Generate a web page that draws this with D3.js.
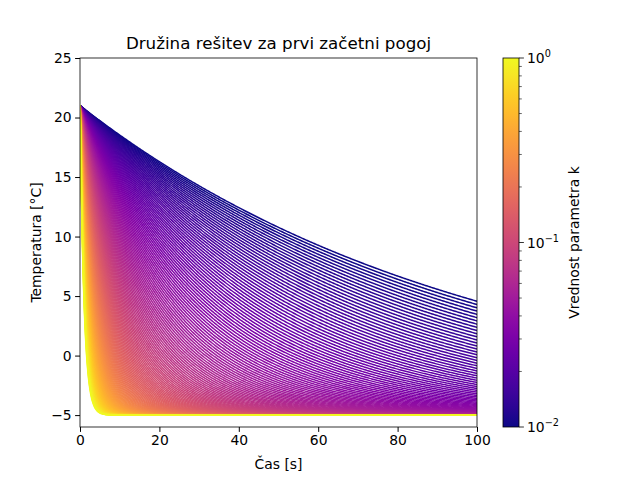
<!DOCTYPE html>
<html><head><meta charset="utf-8">
<script src="https://cdn.jsdelivr.net/npm/d3@7"></script>
<style>body{margin:0;background:#fff}text{font-family:"DejaVu Sans",sans-serif}</style>
</head><body><svg id="c" width="640" height="480"></svg>
<script>
// model parameters
const T0 = 21, Ta = -5;
const kMin = 0.01, kMax = 1, nCurves = 160;
const kValues = d3.range(nCurves).map(i => kMin * Math.pow(kMax / kMin, i / (nCurves - 1)));
const tValues = d3.range(0, 100.001, 0.25);
const xTicks = [0, 20, 40, 60, 80, 100];
const yTicks = [-5, 0, 5, 10, 15, 20, 25];

const svg = d3.select("#c");
const L = 80, R = 477, T = 58, B = 427;
const x = d3.scaleLinear().domain([0, 100]).range([L, R]);
const y = d3.scaleLinear().domain([-6, 25]).range([B, T]);
const kc = d3.scaleLog().domain([kMin, kMax]);
const color = k => d3.interpolatePlasma(kc(k));

svg.append("defs").append("clipPath").attr("id", "cl").append("rect")
  .attr("x", L).attr("y", T).attr("width", R - L).attr("height", B - T);
const g = svg.append("g").attr("clip-path", "url(#cl)");
const line = d3.line().x(d => x(d[0])).y(d => y(d[1]));
kValues.forEach(k => {
  g.append("path").attr("d", line(tValues.map(t => [t, Ta + (T0 - Ta) * Math.exp(-k * t)])))
    .attr("fill", "none").attr("stroke", color(k)).attr("stroke-width", 1.5);
});
svg.append("rect").attr("x", L).attr("y", T).attr("width", R - L).attr("height", B - T)
  .attr("fill", "none").attr("stroke", "#000").attr("stroke-width", 0.8);
svg.append("g").attr("transform", `translate(0,${B})`)
  .call(d3.axisBottom(x).tickValues(xTicks).tickSize(4.9).tickPadding(3.5)).call(a => a.select(".domain").remove())
  .selectAll("text").attr("font-size", 13.9);
svg.append("g").attr("transform", `translate(${L},0)`)
  .call(d3.axisLeft(y).tickValues(yTicks).tickSize(4.9).tickPadding(3.5)).call(a => a.select(".domain").remove())
  .selectAll("text").attr("font-size", 13.9);
svg.append("text").attr("x", (L + R) / 2).attr("y", 469).attr("text-anchor", "middle").attr("font-size", 13.9).text("Čas [s]");
svg.append("text").attr("transform", `translate(41,${(T + B) / 2}) rotate(-90)`).attr("text-anchor", "middle").attr("font-size", 13.9).text("Temperatura [°C]");
svg.append("text").attr("x", (L + R) / 2).attr("y", 49).attr("text-anchor", "middle").attr("font-size", 16.7).text("Družina rešitev za prvi začetni pogoj");

// colorbar
const cx = 503, cw = 16;
const cy = d3.scaleLog().domain([kMin, kMax]).range([B, T]);
const grad = svg.select("defs").append("linearGradient").attr("id", "gr").attr("x1", 0).attr("y1", 1).attr("x2", 0).attr("y2", 0);
d3.range(0, 1.001, 0.05).forEach(s => grad.append("stop").attr("offset", s).attr("stop-color", d3.interpolatePlasma(s)));
svg.append("rect").attr("x", cx).attr("y", T).attr("width", cw).attr("height", B - T).attr("fill", "url(#gr)").attr("stroke", "#000").attr("stroke-width", 0.8);
const major = [0.01, 0.1, 1], minor = [];
[0.01, 0.1].forEach(d => d3.range(2, 10).forEach(m => minor.push(d * m)));
const cb = svg.append("g");
minor.forEach(v => cb.append("line").attr("x1", cx + cw).attr("x2", cx + cw + 2.8).attr("y1", cy(v)).attr("y2", cy(v)).attr("stroke", "#000").attr("stroke-width", 0.6));
major.forEach((v, i) => {
  cb.append("line").attr("x1", cx + cw).attr("x2", cx + cw + 4.9).attr("y1", cy(v)).attr("y2", cy(v)).attr("stroke", "#000").attr("stroke-width", 0.8);
  const t = cb.append("text").attr("x", cx + cw + 8).attr("y", cy(v) + 5).attr("font-size", 13.9);
  t.append("tspan").text("10");
  t.append("tspan").attr("dy", -6).attr("font-size", 9.7).text(["−2", "−1", "0"][i]);
});
svg.append("text").attr("transform", `translate(579,${(T + B) / 2}) rotate(-90)`).attr("text-anchor", "middle").attr("font-size", 13.9).text("Vrednost parametra k");
</script></body></html>
